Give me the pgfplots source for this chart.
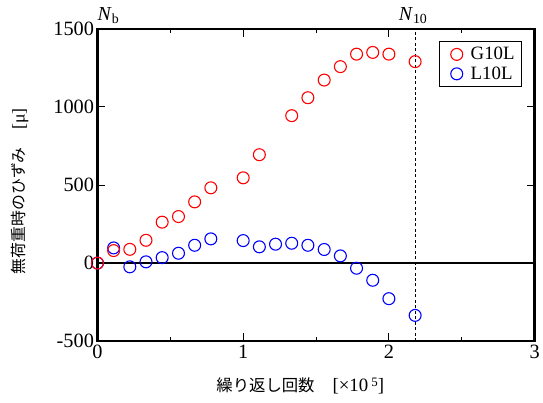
\documentclass[border=0pt]{standalone}
\usepackage{fontspec}
\setmainfont{Liberation Serif}
\newfontfamily\jp{Noto Sans CJK JP}
\usepackage{pgfplots}
\pgfplotsset{compat=1.18}

% residual strain at no load, per specimen
\pgfplotstableread{
x y
0.000 0
0.111 80
0.222 88
0.333 146
0.444 262
0.556 298
0.667 392
0.778 482
1.000 546
1.111 694
1.333 944
1.444 1059
1.556 1172
1.667 1258
1.778 1338
1.889 1349
2.000 1338
2.180 1290
}\gtenl

\pgfplotstableread{
x y
0.000 0
0.111 97
0.222 -24
0.333 8
0.444 35
0.556 63
0.667 114
0.778 155
1.000 144
1.111 104
1.222 121
1.333 127
1.444 114
1.556 87
1.667 46
1.778 -33
1.889 -110
2.000 -228
2.180 -335
}\ltenl

\begin{document}
\begin{tikzpicture}
\begin{axis}[
  scale only axis,
  width=439.5bp, height=314bp,
  xmin=0, xmax=3, ymin=-500, ymax=1500,
  xtick={0,1,2,3}, minor xtick={0.5,1.5,2.5},
  ytick={-500,0,500,1000,1500},
  tick align=inside,
  major tick length=8bp, minor tick length=4bp,
  every tick/.style={black, line width=0.9bp},
  axis line style={line width=2.4bp},
  /pgf/number format/assume math mode=true,
  /pgf/number format/set thousands separator={},
  tick label style={font=\fontsize{20.5}{20.5}\selectfont},
  xlabel={{\jp 繰り返し回数}\hspace{1.1em}{\fontsize{19}{19}\selectfont[×10\,\raisebox{0.6ex}{\fontsize{13}{13}\selectfont 5}]}},
  xlabel style={font=\fontsize{16.5}{17}\selectfont, at={(axis description cs:0.464,-0.143)}, anchor=center},
  ylabel={{\jp 無荷重時のひずみ}\hspace{1.1em}{\fontsize{18}{18}\selectfont[μ]}},
  ylabel style={font=\fontsize{16}{16}\selectfont, at={(axis description cs:-0.1775,0.48)}, anchor=center},
  legend style={at={(rel axis cs:0.9716,0.9618)}, anchor=north east,
    draw=black, line width=1.3bp, font=\fontsize{19}{20}\selectfont,
    inner xsep=4bp, inner ysep=4bp, row sep=1.5bp,
    nodes={inner xsep=3bp}},
  legend image code/.code={%
    \path[draw=none] (0bp,0bp) -- (24bp,0bp);
    \draw[#1] plot coordinates {(13bp,0bp)};},
  legend cell align=left,
  clip=false,
]
\addlegendimage{only marks, mark=o, red, mark size=6bp, line width=1.1bp}
\addlegendentry{G10L}
\addlegendimage{only marks, mark=o, blue, mark size=6bp, line width=1.1bp}
\addlegendentry{L10L}

% zero line and N10 marker
\draw[line width=2.2bp] (axis cs:0,0) -- (axis cs:3,0);
\draw[line width=0.9bp, dash pattern=on 3bp off 2.5bp] (axis cs:2.18,-500) -- (axis cs:2.18,1500);

\addplot[only marks, mark=o, blue, mark size=6bp, line width=1.1bp, forget plot] table[x=x,y=y] {\ltenl};
\addplot[only marks, mark=o, red, mark size=6bp, line width=1.1bp, forget plot] table[x=x,y=y] {\gtenl};

\node[anchor=south west, inner sep=0pt, font=\fontsize{20}{20}\selectfont] at (axis cs:0,1500) [yshift=5bp] {\textit{N}\textsubscript{b}};
\node[anchor=south, inner sep=0pt, font=\fontsize{20}{20}\selectfont] at (axis cs:2.18,1500) [yshift=5bp, xshift=-2bp] {\textit{N}\textsubscript{10}};
\end{axis}
\path (current axis.south west) ++(-98bp,-62bp);
\path (current axis.north east) ++(5.5bp,29bp);
\end{tikzpicture}
\end{document}
